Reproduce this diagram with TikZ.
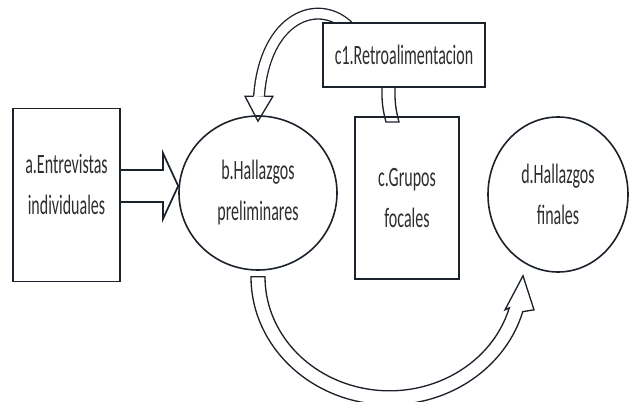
\documentclass[tikz,border=0pt]{standalone}
\usepackage{fontspec}
\setmainfont{Carlito}
\usepackage{graphicx}
\usetikzlibrary{calc,shapes.geometric,backgrounds}
\definecolor{inkline}{HTML}{1C222B}
\definecolor{inktext}{HTML}{2E2E2E}
\newcommand{\tallt}[1]{\scalebox{1}[1.75]{#1}}

\begin{document}
\begin{tikzpicture}[
		x=0.75pt, y=0.75pt,
		font={\fontsize{12pt}{30.75pt}\selectfont},
		stepbox/.style={draw=inkline, fill=white, line width=1.4pt, text=inktext,
				align=center, inner sep=2pt},
		stepoval/.style={ellipse, draw=inkline, line width=1.2pt, text=inktext,
				align=center, inner sep=1pt},
		hollow/.style={draw=inkline, line width=1pt, line join=miter},
		hollowshaft/.style={draw=inkline, line width=1pt, double=white,
				double distance=7pt},
	]
	\useasboundingbox (0,0) rectangle (629,401);

	\node[stepbox, minimum width=80.25pt, minimum height=129.75pt, text depth=16.5pt]
	(entrev) at (66.5,206) {\tallt{a.Entrevistas}\\\tallt{individuales}};

	\node[stepoval, minimum width=118.5pt, minimum height=115.5pt]
	(prelim) at (258,208) {\tallt{b.Hallazgos}\\\tallt{preliminares}};

	\node[stepbox, minimum width=78pt, minimum height=121.5pt]
	(grupos) at (407,203) {\tallt{c.Grupos}\\\tallt{focales}};

	\node[stepbox, minimum width=121.5pt, minimum height=48pt]
	(retro) at (404,346) {\tallt{c1.Retroalimentacion}};

	\node[stepoval, minimum width=105pt, minimum height=116.25pt]
	(finales) at (558,206.5) {\tallt{d.Hallazgos}\\\tallt{finales}};

	% a -> b
	\draw[hollow, line width=1.3pt] ($(entrev.east)+(0,25)$) -- ++(42,0) -- ++(0,17)
	-- ($(prelim.west)+(0,7)$) -- ($(entrev.east)+(42,-24)$) -- ++(0,17)
	-- ($(entrev.east)+(0,-7)$);

	% b -> d, under the picture
	\coordinate (pfc) at ($(prelim.south)+(131.5,-6)$);
	\coordinate (pftip) at ($(finales.south)+(-35,-3)$);
	\draw[hollow] ($(pfc)+(180:138.5 and 128)$)
	arc[start angle=180, end angle=344.2, x radius=138.5, y radius=128]
	-- ($(pftip)+(11,-34)$) -- (pftip) -- ($(pftip)+(-18,-34)$)
	-- ($(pfc)+(344.2:124.5 and 114)$)
	arc[start angle=344.2, end angle=180, x radius=124.5, y radius=114] -- cycle;

	% c1 -> b, over the top
	\coordinate (rpbase) at ($(prelim.north)+(1,19)$);
	\coordinate (rptip) at ($(prelim.north)+(0,-6)$);
	\begin{pgfonlayer}{background}
		\draw[hollowshaft] ($(retro.north west)+(27,-5)$)
		.. controls +(-30,30) and +(6,80) .. (rpbase);
	\end{pgfonlayer}
	\draw[hollow] ($(rpbase)+(-5.5,0)$) -- ($(rpbase)+(-14,0)$) -- (rptip)
	-- ($(rpbase)+(14,0)$) -- ($(rpbase)+(5.5,0)$);

	% c1 -- c
	\draw[hollow] ($(retro.south)+(-22,0)$) to[bend right=8] ($(grupos.north)+(-21,-6)$)
	-- ($(grupos.north)+(-8,-6)$) to[bend left=8] ($(retro.south)+(-9,0)$);

\end{tikzpicture}
\end{document}
